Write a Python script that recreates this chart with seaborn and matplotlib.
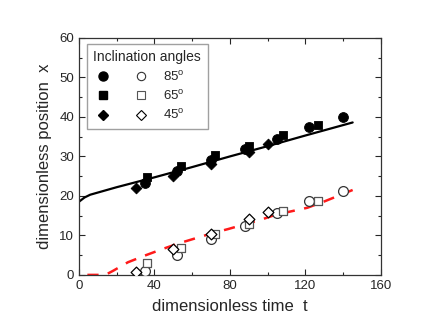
import numpy as np
import pandas as pd
import matplotlib
matplotlib.use("Agg")
import matplotlib.pyplot as plt
import seaborn as sns
from matplotlib.lines import Line2D
from matplotlib.legend_handler import HandlerTuple
from matplotlib.ticker import MultipleLocator

# data
angles = ["85", "65", "45"]

t85 = [35, 52, 70, 88, 105, 122, 140]
t65 = [36, 54, 72, 90, 108, 126.5]
t45 = [30, 50, 70, 90, 100]

# filled symbols (upper set)
x85_up = [23.2, 26.2, 29.1, 31.8, 34.4, 37.4, 40.1]
x65_up = [24.9, 27.7, 30.4, 32.7, 35.4, 38.0]
x45_up = [21.9, 25.1, 28.0, 31.2, 33.1]

# open symbols (lower set)
x85_lo = [1.0, 5.1, 9.0, 12.4, 15.6, 18.6, 21.3]
x65_lo = [3.1, 6.9, 10.3, 12.9, 16.2, 18.6]
x45_lo = [0.8, 6.5, 10.3, 14.1, 15.8]

# fitted curves
fit_up_t = [0, 3, 6, 20, 40, 60, 80, 100, 120, 145]
fit_up_x = [18.5, 19.6, 20.3, 22.2, 24.7, 27.3, 30.0, 32.6, 35.3, 38.6]
fit_lo_t = [4.5, 14, 18, 26, 35, 44, 53, 62, 71, 79, 87, 96, 104, 121, 130, 145]
fit_lo_x = [0, 0, 1.0, 3.2, 4.9, 6.5, 8.0, 9.3, 10.6, 11.6, 12.7, 13.9, 15.2, 17.0, 18.6, 21.5]

rows = []
for ang, t, up, lo in zip(angles, [t85, t65, t45], [x85_up, x65_up, x45_up], [x85_lo, x65_lo, x45_lo]):
    for ti, u, l in zip(t, up, lo):
        rows.append({"angle": ang, "t": ti, "x": u, "set": "filled"})
        rows.append({"angle": ang, "t": ti, "x": l, "set": "open"})
df = pd.DataFrame(rows)

sns.set_style("ticks")
plt.rcParams['font.family'] = ['Liberation Sans', 'DejaVu Sans']
plt.rcParams['mathtext.fontset'] = 'custom'
plt.rcParams['mathtext.rm'] = 'Liberation Sans'

fig, ax = plt.subplots(figsize=(4.43, 3.30), dpi=100)
fig.subplots_adjust(left=0.178, right=0.86, bottom=0.167, top=0.885)

marker_of = {"85": "o", "65": "s", "45": "D"}
size_of = {"85": 50, "65": 36, "45": 30}
open_edge = {"85": "#333333", "65": "#555555", "45": "black"}

# fit lines
sns.lineplot(x=fit_up_t, y=fit_up_x, color="black", lw=1.6, ax=ax, sort=False)
sns.lineplot(x=fit_lo_t, y=fit_lo_x, color="#ff1a1a", lw=1.8, ax=ax, sort=False,
             dashes=False, linestyle=(0, (4.5, 3.8)))

for ang in angles:
    sub = df[df["angle"] == ang]
    f = sub[sub["set"] == "filled"]
    o = sub[sub["set"] == "open"]
    sns.scatterplot(data=f, x="t", y="x", marker=marker_of[ang], s=size_of[ang],
                    color="black", edgecolor="black", linewidth=0.6, ax=ax, zorder=3)
    sns.scatterplot(data=o, x="t", y="x", marker=marker_of[ang], s=size_of[ang],
                    facecolor="white", edgecolor=open_edge[ang], linewidth=0.9, ax=ax, zorder=3)

ax.set_xlim(0, 160)
ax.set_ylim(0, 60)
ax.xaxis.set_major_locator(MultipleLocator(40))
ax.xaxis.set_minor_locator(MultipleLocator(20))
ax.yaxis.set_major_locator(MultipleLocator(10))
ax.yaxis.set_minor_locator(MultipleLocator(5))
ax.tick_params(which="both", direction="in", top=True, right=True, labelsize=9.5, width=0.8)
ax.tick_params(which="major", length=4)
ax.tick_params(which="minor", length=2)
for sp in ax.spines.values():
    sp.set_linewidth(0.9)
    sp.set_color("#333333")

ax.set_xlabel("dimensionless time  t", fontsize=12, labelpad=5)
ax.set_ylabel("dimensionless position  x", fontsize=12, labelpad=5)

# legend: filled and open symbol side by side
handles = []
labels = []
for ang in angles:
    h_f = Line2D([], [], marker=marker_of[ang], ls="none", color="black", ms=6.5 if ang == "85" else 5.5)
    h_o = Line2D([], [], marker=marker_of[ang], ls="none", mfc="white", mec=open_edge[ang],
                 mew=0.8, ms=6 if ang == "85" else 5.5)
    handles.append((h_f, h_o))
    labels.append(ang + r"$^{\mathrm{o}}$")
leg = ax.legend(handles, labels, handler_map={tuple: HandlerTuple(ndivide=None, pad=1.4)},
                title="Inclination angles", loc="upper left", bbox_to_anchor=(0.026, 0.975),
                borderaxespad=0, fontsize=9.5, title_fontsize=10, handlelength=4.4,
                handletextpad=0.9, labelspacing=0.4, frameon=True, fancybox=False,
                alignment="left", borderpad=0.5)
leg.get_frame().set_edgecolor("#888888")
leg.get_frame().set_linewidth(1.0)

fig.savefig("out.png", dpi=100)
